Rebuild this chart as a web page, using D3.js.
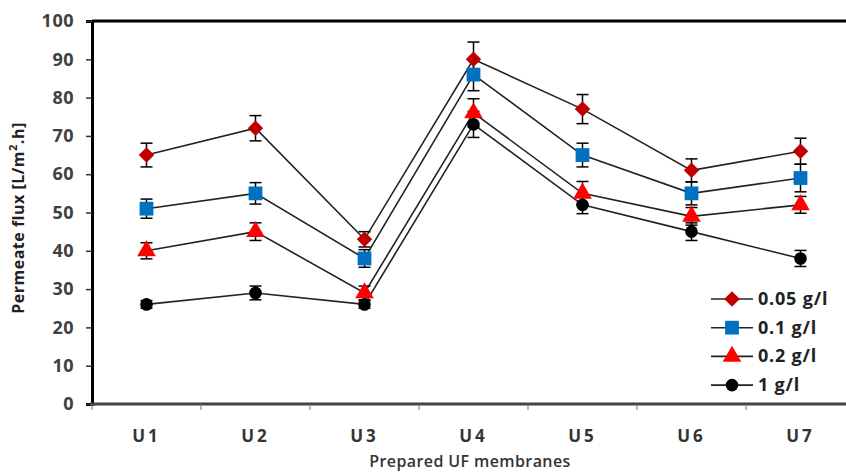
<!DOCTYPE html>
<html>
<head>
<meta charset="utf-8">
<script src="https://cdn.jsdelivr.net/npm/d3@7"></script>
<style>
  body { margin: 0; background: #fff; }
  svg { display: block; font-family: "Open Sans", "Liberation Sans", sans-serif; }
</style>
</head>
<body>
<div id="chart"></div>
<script>
// membranes on the x axis
var membranes = ["U1", "U2", "U3", "U4", "U5", "U6", "U7"];
var yTicks = [0, 10, 20, 30, 40, 50, 60, 70, 80, 90, 100];

// permeate flux for each feed concentration
var flux005 = [65, 72, 43, 90, 77, 61, 66];
var flux01  = [51, 55, 38, 86, 65, 55, 59];
var flux02  = [40, 45, 29, 76, 55, 49, 52];
var flux1   = [26, 29, 26, 73, 52, 45, 38];

// error bar half-widths
var err005 = [3.1, 3.3, 2.0, 4.5, 3.8, 3.0, 3.4];
var err01  = [2.5, 2.8, 2.3, 4.2, 3.1, 3.0, 3.6];
var err02  = [2.1, 2.3, 1.8, 3.7, 3.1, 2.3, 2.2];
var err1   = [1.0, 1.8, 1.0, 3.4, 2.3, 2.3, 2.1];

var seriesNames = ["0.05 g/l", "0.1 g/l", "0.2 g/l", "1 g/l"];

var series = [
    { name: seriesNames[0], values: flux005, errors: err005, shape: d3.symbolSquare,   size: 120, rot: 45, color: "#c00000" },
    { name: seriesNames[1], values: flux01,  errors: err01,  shape: d3.symbolSquare,   size: 190, rot: 0,  color: "#0070c0" },
    { name: seriesNames[2], values: flux02,  errors: err02,  shape: d3.symbolTriangle, size: 150, rot: 0,  color: "#ff0000" },
    { name: seriesNames[3], values: flux1,   errors: err1,   shape: d3.symbolCircle,   size: 125, rot: 0,  color: "#000000" }
];

var width = 846, height = 473;
var margin = { top: 21, left: 92, bottom: 404, right: 855 };

var svg = d3.select("#chart").append("svg")
    .attr("width", width)
    .attr("height", height);

var x = d3.scaleBand()
    .domain(membranes)
    .range([margin.left, margin.right]);

var y = d3.scaleLinear()
    .domain([0, 100])
    .range([margin.bottom, margin.top]);

// top border of the plot area
svg.append("line")
    .attr("x1", margin.left).attr("x2", width)
    .attr("y1", y(100)).attr("y2", y(100))
    .attr("stroke", "#000").attr("stroke-width", 3);

// y axis
var yAxis = svg.append("g")
    .attr("transform", "translate(" + margin.left + ",0)")
    .call(d3.axisLeft(y).tickValues(yTicks).tickSize(6).tickPadding(12));
yAxis.select(".domain").attr("stroke", "#000").attr("stroke-width", 3);
yAxis.selectAll(".tick line").attr("stroke", "#333").attr("stroke-width", 1.5);
yAxis.selectAll(".tick text")
    .attr("font-size", "18px")
    .attr("font-weight", "bold")
    .attr("letter-spacing", "0.5px")
    .attr("fill", "#404040")
    .attr("font-family", "'Open Sans', sans-serif");

// x axis: ticks at band boundaries
var xAxisG = svg.append("g");
xAxisG.append("line")
    .attr("x1", margin.left - 2).attr("x2", width)
    .attr("y1", y(0)).attr("y2", y(0))
    .attr("stroke", "#444").attr("stroke-width", 3);
xAxisG.selectAll(".xtick")
    .data(membranes)
    .enter().append("line")
    .attr("x1", function (d) { return x(d); })
    .attr("x2", function (d) { return x(d); })
    .attr("y1", y(0))
    .attr("y2", y(0) + 6)
    .attr("stroke", "#777").attr("stroke-width", 1);
xAxisG.selectAll(".xlabel")
    .data(membranes)
    .enter().append("text")
    .attr("x", function (d) { return x(d) + x.bandwidth() / 2; })
    .attr("y", 442)
    .attr("text-anchor", "middle")
    .attr("font-size", "17px")
    .attr("font-weight", "bold")
    .attr("letter-spacing", "3px")
    .attr("fill", "#333")
    .text(function (d) { return d; });

// axis titles
svg.append("text")
    .attr("x", 470)
    .attr("y", 467)
    .attr("text-anchor", "middle")
    .attr("font-size", "16px")
    .attr("font-weight", "600")
    .attr("letter-spacing", "0.4px")
    .attr("fill", "#333")
    .text("Prepared UF membranes");

var yTitle = svg.append("text")
    .attr("transform", "translate(24,218) rotate(-90)")
    .attr("text-anchor", "middle")
    .attr("font-size", "16px")
    .attr("font-weight", "bold")
    .attr("letter-spacing", "0.5px")
    .attr("fill", "#222");
yTitle.append("tspan").text("Permeate flux  [L/m");
yTitle.append("tspan").attr("baseline-shift", "super").attr("font-size", "11px").text("2");
yTitle.append("tspan").text(".h]");

var cx = function (i) { return x(membranes[i]) + x.bandwidth() / 2; };

var line = d3.line()
    .x(function (d, i) { return cx(i); })
    .y(function (d) { return y(d); });

// connecting lines
svg.append("g").selectAll("path")
    .data(series)
    .enter().append("path")
    .attr("d", function (s) { return line(s.values); })
    .attr("fill", "none")
    .attr("stroke", "#222")
    .attr("stroke-width", 1.6);

// error bars
series.forEach(function (s) {
    var g = svg.append("g").attr("stroke", "#000").attr("stroke-width", 1.5);
    s.values.forEach(function (v, i) {
        var e = s.errors[i];
        g.append("line")
            .attr("x1", cx(i)).attr("x2", cx(i))
            .attr("y1", y(v + e)).attr("y2", y(v - e));
        [v + e, v - e].forEach(function (w) {
            g.append("line")
                .attr("x1", cx(i) - 6).attr("x2", cx(i) + 6)
                .attr("y1", y(w)).attr("y2", y(w));
        });
    });
});

// markers
series.forEach(function (s) {
    svg.append("g").selectAll("path")
        .data(s.values)
        .enter().append("path")
        .attr("transform", function (d, i) { return "translate(" + cx(i) + "," + y(d) + ") rotate(" + s.rot + ")"; })
        .attr("d", d3.symbol().type(s.shape).size(s.size))
        .attr("fill", s.color);
});

// legend
var legend = svg.append("g").attr("transform", "translate(711,299)");
var rows = legend.selectAll("g")
    .data(series)
    .enter().append("g")
    .attr("transform", function (d, i) { return "translate(0," + (i * 28.7) + ")"; });
rows.append("line")
    .attr("x1", 0).attr("x2", 42)
    .attr("stroke", "#222").attr("stroke-width", 1.6);
rows.append("path")
    .attr("transform", function (d) { return "translate(21,0) rotate(" + d.rot + ")"; })
    .attr("d", function (d) { return d3.symbol().type(d.shape).size(d.size)(); })
    .attr("fill", function (d) { return d.color; });
rows.append("text")
    .attr("x", 47)
    .attr("y", 6)
    .attr("font-size", "18px")
    .attr("font-weight", "bold")
    .attr("letter-spacing", "0.8px")
    .attr("fill", "#222")
    .text(function (d) { return d.name; });
</script>
</body>
</html>
